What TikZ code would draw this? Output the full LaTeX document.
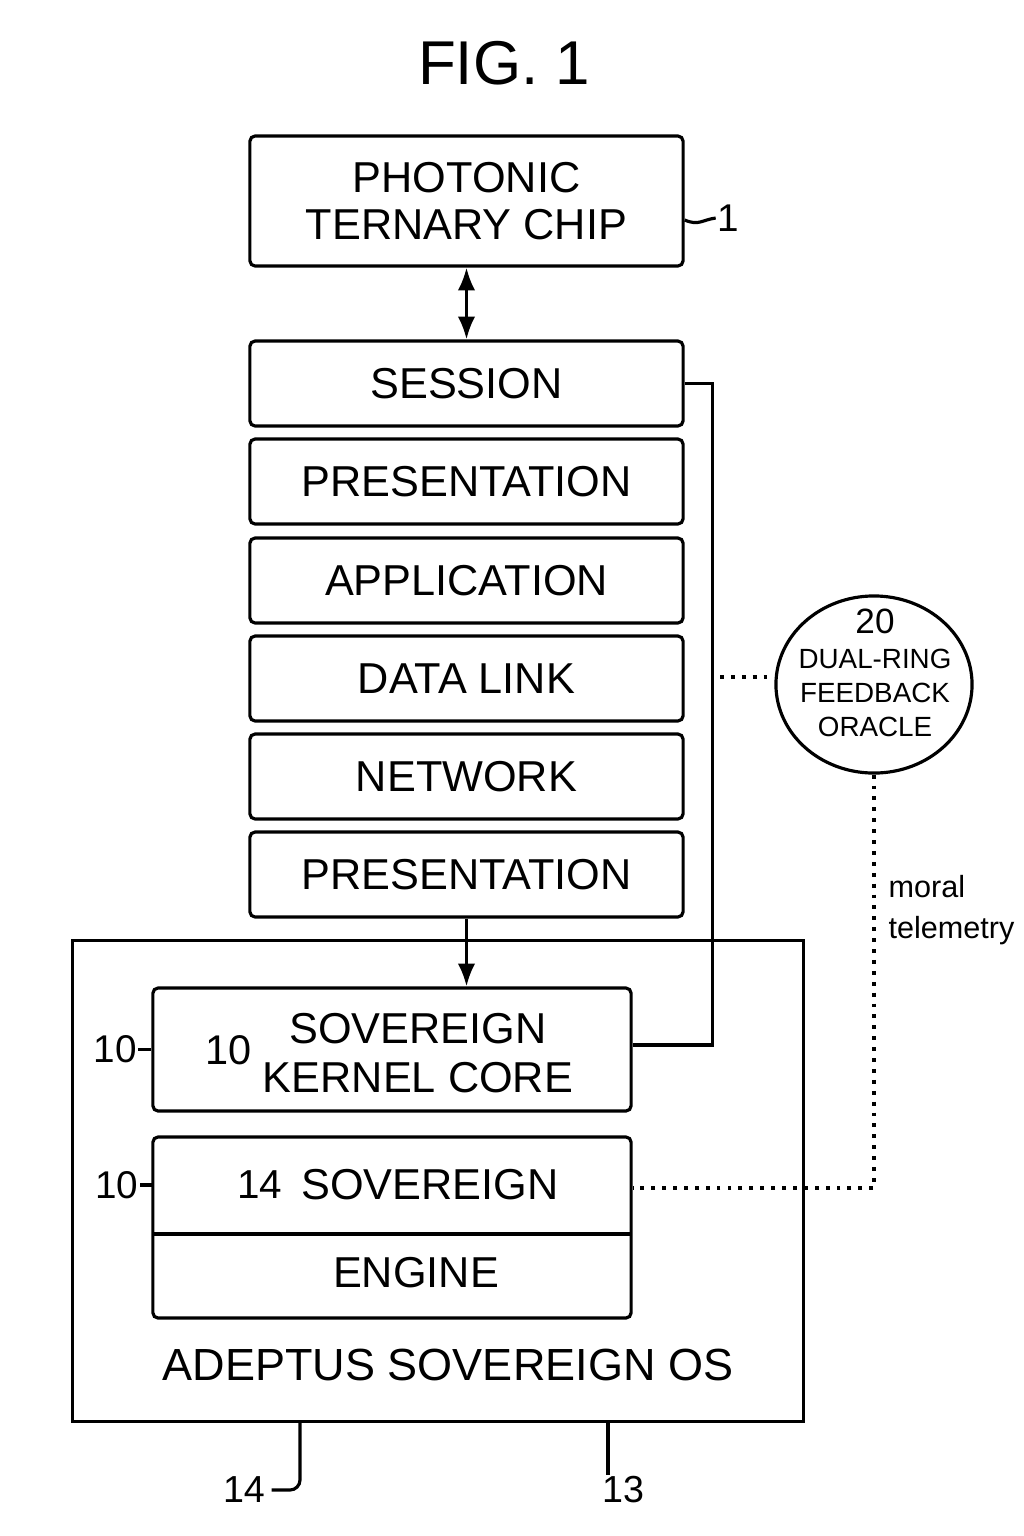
\documentclass[tikz,border=0pt]{standalone}
\usepackage{fontspec}
\setmainfont{Liberation Sans}
\usetikzlibrary{calc}
\usetikzlibrary{arrows.meta}
\usetikzlibrary{shapes.geometric}
\newcommand{\sideref}[3]{
\node[reftext, anchor=east] (#1) at ($(#2) + (-13, 0)$) {#3};
\draw (#1.east) -- (#2);
}

\begin{document}
\begin{tikzpicture}[x=0.01cm, y=-0.01cm, line width=0.9pt,
  >={Latex[length=6.5pt, width=5pt]},
  layer/.style={draw, rounded corners=1.5pt, inner sep=0pt, minimum width=4.33cm,
    minimum height=0.85cm, font=\fontsize{12.3}{13.4}\selectfont, align=center},
  unit/.style={draw, rounded corners=1.5pt, inner sep=0pt, minimum width=4.78cm},
  boxtext/.style={inner sep=0pt, font=\fontsize{12.3}{14}\selectfont, align=center},
  reftext/.style={inner sep=0pt, font=\fontsize{11}{12}\selectfont},
  tap/.style={dotted, line width=1.1pt}]
\useasboundingbox (0, 0) rectangle (1024, 1536);
\node at (504, 63) (fig) [inner sep=0pt, font=\fontsize{17.6}{20}\selectfont] {FIG. 1};

% OSI stack
\node at (466.5, 201)   (chip) [layer, minimum height=1.30cm] {PHOTONIC\\TERNARY CHIP};
\node at (466.5, 383.5) (session) [layer] {SESSION};
\node at (466.5, 481.5) (pres1)   [layer] {PRESENTATION};
\node at (466.5, 580.5) (app)     [layer] {APPLICATION};
\node at (466.5, 678.5) (dlink)   [layer] {DATA LINK};
\node at (466.5, 776.5) (net)     [layer] {NETWORK};
\node at (466.5, 874.5) (pres2)   [layer] {PRESENTATION};
\draw[<->] (chip) -- (session);
\node at (728, 218) (ref1) [reftext] {1};
\draw ([yshift=-0.19cm]chip.east) .. controls +(14, 6) and +(-14, 2) .. (ref1.west);

% OS
\node at (438, 1181) (os) [draw, inner sep=0pt, minimum width=7.30cm, minimum height=4.80cm] {};
\node at (448, 1365) (ostxt) [boxtext, font=\fontsize{12.8}{14}\selectfont] {ADEPTUS SOVEREIGN OS};
\node at (392, 1049.5) (kernel) [unit, minimum height=1.23cm] {};
\node at (229, 1050) (kernum) [reftext, font=\fontsize{11.8}{12}\selectfont] {10};
\node at (418, 1053) (kertxt) [boxtext] {SOVEREIGN\\KERNEL CORE};
\node at (392, 1227.5) (engine) [unit, minimum height=1.81cm] {};
\coordinate (engsplitL) at (153, 1234);
\coordinate (engsplitR) at (631, 1234);
\draw (engsplitL) -- (engsplitR);
\node at (260, 1185) (engnum) [reftext, font=\fontsize{11.5}{12}\selectfont] {14};
\node at (430, 1185) (engtxt) [boxtext] {SOVEREIGN};
\node at (416, 1273) (engbot) [boxtext] {ENGINE};
\sideref{ref10a}{kernel.west}{10}
\coordinate (engleft) at (153, 1185);
\sideref{ref10b}{engleft}{10}
\draw[->] (pres2.south) -- (pres2.south |- kernel.north);
\draw (session.east) -- ++(28, 0) |- ([yshift=0.045cm]kernel.east);

% oracle
\node at (874, 684.5) (oracle) [draw, ellipse, inner sep=0pt, minimum width=1.96cm, minimum height=1.77cm] {};
\node at (875, 673) (oracletxt) [inner sep=0pt, align=center, font=\fontsize{7.9}{9.7}\selectfont]
  {{\fontsize{10}{9.7}\selectfont 20}\\DUAL-RING\\FEEDBACK\\ORACLE};
\coordinate (stackin) at (720, 677);
\draw[tap] (stackin) -- (stackin -| oracle.west);
\coordinate (engtap) at (633, 1188);
\draw[tap] (oracle.south) |- (engtap);
\node at (887, 910) (telemetry) [anchor=west, inner sep=0pt, align=left, font=\fontsize{8.7}{11.8}\selectfont] {moral\\telemetry};

% reference numerals
\coordinate (stem14) at (300, 1421);
\node at (244, 1490) (ref14) [reftext, font=\fontsize{10.7}{12}\selectfont] {14};
\draw[rounded corners=0.1cm] (stem14) |- ([xshift=0.05cm]ref14.east);
\coordinate (stem13) at (608, 1421);
\node at (623, 1490) (ref13) [reftext, font=\fontsize{10.7}{12}\selectfont] {13};
\draw (stem13) -- (stem13 |- ref13.north);
\end{tikzpicture}
\end{document}
